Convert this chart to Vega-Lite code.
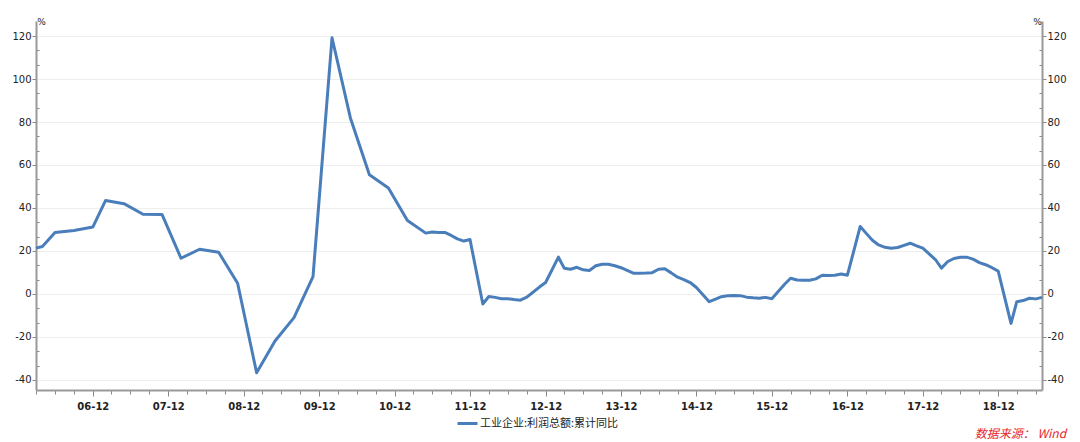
{
  "$schema": "https://vega.github.io/schema/vega-lite/v6.json",
  "width": 1006,
  "height": 369,
  "autosize": {"type": "none"},
  "padding": {"left": 36, "top": 21, "right": 38, "bottom": 52},
  "background": "white",
  "config": {"view": {"stroke": null}, "font": "DejaVu Sans"},
  "title": {
    "text": "数据来源：   Wind",
    "orient": "bottom",
    "anchor": "end",
    "color": "#e8262b",
    "fontSize": 12,
    "fontStyle": "italic",
    "fontWeight": "normal",
    "font": "Noto Sans CJK SC",
    "offset": 0,
    "dy": -1,
    "dx": 0
  },
  "data": {
    "values": [
      {"date": "2006-03", "value": 21.3},
      {"date": "2006-04", "value": 22.1},
      {"date": "2006-06", "value": 28.6},
      {"date": "2006-09", "value": 29.5},
      {"date": "2006-12", "value": 31.1},
      {"date": "2007-02", "value": 43.5},
      {"date": "2007-05", "value": 42.0},
      {"date": "2007-08", "value": 37.1},
      {"date": "2007-11", "value": 37.0},
      {"date": "2008-02", "value": 16.6},
      {"date": "2008-05", "value": 20.8},
      {"date": "2008-08", "value": 19.4},
      {"date": "2008-11", "value": 5.0},
      {"date": "2009-02", "value": -36.7},
      {"date": "2009-05", "value": -21.9},
      {"date": "2009-08", "value": -11.0},
      {"date": "2009-11", "value": 8.1},
      {"date": "2010-02", "value": 119.2},
      {"date": "2010-05", "value": 81.9},
      {"date": "2010-08", "value": 55.5},
      {"date": "2010-11", "value": 49.3},
      {"date": "2011-02", "value": 34.2},
      {"date": "2011-05", "value": 28.3},
      {"date": "2011-06", "value": 28.8},
      {"date": "2011-07", "value": 28.6},
      {"date": "2011-08", "value": 28.6},
      {"date": "2011-09", "value": 27.2},
      {"date": "2011-10", "value": 25.6},
      {"date": "2011-11", "value": 24.6},
      {"date": "2011-12", "value": 25.3},
      {"date": "2012-02", "value": -4.7},
      {"date": "2012-03", "value": -1.2},
      {"date": "2012-04", "value": -1.6},
      {"date": "2012-05", "value": -2.2},
      {"date": "2012-06", "value": -2.2},
      {"date": "2012-07", "value": -2.6},
      {"date": "2012-08", "value": -2.9},
      {"date": "2012-09", "value": -1.5},
      {"date": "2012-10", "value": 0.8},
      {"date": "2012-11", "value": 3.2},
      {"date": "2012-12", "value": 5.3},
      {"date": "2013-02", "value": 17.1},
      {"date": "2013-03", "value": 12.0},
      {"date": "2013-04", "value": 11.5},
      {"date": "2013-05", "value": 12.4},
      {"date": "2013-06", "value": 11.2},
      {"date": "2013-07", "value": 10.9},
      {"date": "2013-08", "value": 13.1},
      {"date": "2013-09", "value": 13.8},
      {"date": "2013-10", "value": 13.8},
      {"date": "2013-11", "value": 13.1},
      {"date": "2013-12", "value": 12.2},
      {"date": "2014-02", "value": 9.6},
      {"date": "2014-03", "value": 9.6},
      {"date": "2014-04", "value": 9.7},
      {"date": "2014-05", "value": 9.9},
      {"date": "2014-06", "value": 11.5},
      {"date": "2014-07", "value": 11.7},
      {"date": "2014-08", "value": 9.8},
      {"date": "2014-09", "value": 7.8},
      {"date": "2014-10", "value": 6.7},
      {"date": "2014-11", "value": 5.3},
      {"date": "2014-12", "value": 3.0},
      {"date": "2015-02", "value": -3.6},
      {"date": "2015-03", "value": -2.5},
      {"date": "2015-04", "value": -1.3},
      {"date": "2015-05", "value": -0.8},
      {"date": "2015-06", "value": -0.7},
      {"date": "2015-07", "value": -0.8},
      {"date": "2015-08", "value": -1.5},
      {"date": "2015-09", "value": -1.8},
      {"date": "2015-10", "value": -2.0},
      {"date": "2015-11", "value": -1.6},
      {"date": "2015-12", "value": -2.2},
      {"date": "2016-02", "value": 4.5},
      {"date": "2016-03", "value": 7.3},
      {"date": "2016-04", "value": 6.5},
      {"date": "2016-05", "value": 6.4},
      {"date": "2016-06", "value": 6.4},
      {"date": "2016-07", "value": 7.0},
      {"date": "2016-08", "value": 8.7},
      {"date": "2016-09", "value": 8.6},
      {"date": "2016-10", "value": 8.7},
      {"date": "2016-11", "value": 9.3},
      {"date": "2016-12", "value": 8.7},
      {"date": "2017-02", "value": 31.4},
      {"date": "2017-03", "value": 28.3},
      {"date": "2017-04", "value": 25.0},
      {"date": "2017-05", "value": 22.8},
      {"date": "2017-06", "value": 21.7},
      {"date": "2017-07", "value": 21.3},
      {"date": "2017-08", "value": 21.6},
      {"date": "2017-09", "value": 22.6},
      {"date": "2017-10", "value": 23.6},
      {"date": "2017-11", "value": 22.4},
      {"date": "2017-12", "value": 21.3},
      {"date": "2018-02", "value": 15.9},
      {"date": "2018-03", "value": 12.0},
      {"date": "2018-04", "value": 15.1},
      {"date": "2018-05", "value": 16.5},
      {"date": "2018-06", "value": 17.1},
      {"date": "2018-07", "value": 17.1},
      {"date": "2018-08", "value": 16.2},
      {"date": "2018-09", "value": 14.6},
      {"date": "2018-10", "value": 13.6},
      {"date": "2018-11", "value": 12.2},
      {"date": "2018-12", "value": 10.6},
      {"date": "2019-02", "value": -13.7},
      {"date": "2019-03", "value": -3.6},
      {"date": "2019-04", "value": -3.1},
      {"date": "2019-05", "value": -2.0},
      {"date": "2019-06", "value": -2.3},
      {"date": "2019-07", "value": -1.6}
    ]
  },
  "encoding": {
    "x": {
      "field": "date",
      "type": "temporal",
      "title": null,
      "scale": {
        "domain": [
          {"year": 2006, "month": 3, "date": 1, "utc": true},
          {"year": 2019, "month": 7, "date": 1, "utc": true}
        ]
      },
      "axis": {
        "orient": "bottom",
        "grid": false,
        "values": [
          {"year": 2006, "month": 3, "date": 1, "utc": true},
          {"year": 2006, "month": 6, "date": 1, "utc": true},
          {"year": 2006, "month": 9, "date": 1, "utc": true},
          {"year": 2006, "month": 12, "date": 1, "utc": true},
          {"year": 2007, "month": 3, "date": 1, "utc": true},
          {"year": 2007, "month": 6, "date": 1, "utc": true},
          {"year": 2007, "month": 9, "date": 1, "utc": true},
          {"year": 2007, "month": 12, "date": 1, "utc": true},
          {"year": 2008, "month": 3, "date": 1, "utc": true},
          {"year": 2008, "month": 6, "date": 1, "utc": true},
          {"year": 2008, "month": 9, "date": 1, "utc": true},
          {"year": 2008, "month": 12, "date": 1, "utc": true},
          {"year": 2009, "month": 3, "date": 1, "utc": true},
          {"year": 2009, "month": 6, "date": 1, "utc": true},
          {"year": 2009, "month": 9, "date": 1, "utc": true},
          {"year": 2009, "month": 12, "date": 1, "utc": true},
          {"year": 2010, "month": 3, "date": 1, "utc": true},
          {"year": 2010, "month": 6, "date": 1, "utc": true},
          {"year": 2010, "month": 9, "date": 1, "utc": true},
          {"year": 2010, "month": 12, "date": 1, "utc": true},
          {"year": 2011, "month": 3, "date": 1, "utc": true},
          {"year": 2011, "month": 6, "date": 1, "utc": true},
          {"year": 2011, "month": 9, "date": 1, "utc": true},
          {"year": 2011, "month": 12, "date": 1, "utc": true},
          {"year": 2012, "month": 3, "date": 1, "utc": true},
          {"year": 2012, "month": 6, "date": 1, "utc": true},
          {"year": 2012, "month": 9, "date": 1, "utc": true},
          {"year": 2012, "month": 12, "date": 1, "utc": true},
          {"year": 2013, "month": 3, "date": 1, "utc": true},
          {"year": 2013, "month": 6, "date": 1, "utc": true},
          {"year": 2013, "month": 9, "date": 1, "utc": true},
          {"year": 2013, "month": 12, "date": 1, "utc": true},
          {"year": 2014, "month": 3, "date": 1, "utc": true},
          {"year": 2014, "month": 6, "date": 1, "utc": true},
          {"year": 2014, "month": 9, "date": 1, "utc": true},
          {"year": 2014, "month": 12, "date": 1, "utc": true},
          {"year": 2015, "month": 3, "date": 1, "utc": true},
          {"year": 2015, "month": 6, "date": 1, "utc": true},
          {"year": 2015, "month": 9, "date": 1, "utc": true},
          {"year": 2015, "month": 12, "date": 1, "utc": true},
          {"year": 2016, "month": 3, "date": 1, "utc": true},
          {"year": 2016, "month": 6, "date": 1, "utc": true},
          {"year": 2016, "month": 9, "date": 1, "utc": true},
          {"year": 2016, "month": 12, "date": 1, "utc": true},
          {"year": 2017, "month": 3, "date": 1, "utc": true},
          {"year": 2017, "month": 6, "date": 1, "utc": true},
          {"year": 2017, "month": 9, "date": 1, "utc": true},
          {"year": 2017, "month": 12, "date": 1, "utc": true},
          {"year": 2018, "month": 3, "date": 1, "utc": true},
          {"year": 2018, "month": 6, "date": 1, "utc": true},
          {"year": 2018, "month": 9, "date": 1, "utc": true},
          {"year": 2018, "month": 12, "date": 1, "utc": true},
          {"year": 2019, "month": 3, "date": 1, "utc": true},
          {"year": 2019, "month": 6, "date": 1, "utc": true}
        ],
        "labelExpr": "utcmonth(datum.value) === 11 ? utcFormat(datum.value, '%y-%m') : ''",
        "labelFont": "DejaVu Sans",
        "labelFontWeight": "bold",
        "labelFontSize": 10,
        "labelColor": "#222222",
        "labelPadding": 5,
        "labelFlush": false,
        "labelOverlap": false,
        "domainColor": "#999999",
        "domainWidth": 2,
        "tickColor": "#888888",
        "tickWidth": 1,
        "tickSize": {"condition": {"test": "utcmonth(datum.value) === 11", "value": 6}, "value": 4}
      }
    }
  },
  "layer": [
    {
      "mark": {"type": "line", "strokeWidth": 3, "strokeJoin": "round"},
      "encoding": {
        "y": {
          "field": "value",
          "type": "quantitative",
          "title": "%",
          "scale": {"domain": [-44.7, 127], "nice": false, "zero": false},
          "axis": {
            "orient": "left",
            "values": [-40, -33.3333, -26.6667, -20, -13.3333, -6.6667, 0, 6.6667, 13.3333, 20, 26.6667, 33.3333, 40, 46.6667, 53.3333, 60, 66.6667, 73.3333, 80, 86.6667, 93.3333, 100, 106.6667, 113.3333, 120],
            "labelExpr": "datum.value % 20 === 0 ? '' + datum.value : ''",
            "labelFont": "DejaVu Sans",
            "labelFontSize": 10,
            "labelColor": "#222222",
            "labelPadding": 1,
            "grid": true,
            "gridColor": "#eeeeee",
            "gridWidth": 1,
            "gridOpacity": {"condition": {"test": "datum.value % 20 === 0", "value": 1}, "value": 0},
            "domainColor": "#999999",
            "domainWidth": 2,
            "tickColor": "#888888",
            "tickWidth": 1,
            "tickSize": {"condition": {"test": "datum.value % 20 === 0", "value": 4}, "value": -3},
            "titleAngle": 0,
            "titleX": 5,
            "titleY": 3,
            "titleAlign": "center",
            "titleBaseline": "alphabetic",
            "titleFont": "DejaVu Sans",
            "titleFontSize": 9,
            "titleFontWeight": "normal",
            "titleColor": "#222222"
          }
        },
        "color": {
          "datum": "工业企业:利润总额:累计同比",
          "type": "nominal",
          "scale": {"range": ["#4a7ebb"]},
          "legend": {
            "title": null,
            "orient": "none",
            "legendX": 420,
            "legendY": 391,
            "symbolType": "stroke",
            "symbolSize": 400,
            "symbolStrokeWidth": 3,
            "labelFont": "Noto Sans CJK SC",
            "labelFontSize": 11,
            "labelColor": "#222222",
            "labelOffset": 1,
            "labelLimit": 300
          }
        }
      }
    },
    {
      "mark": {"type": "line", "strokeOpacity": 0},
      "encoding": {
        "y": {
          "field": "value",
          "type": "quantitative",
          "title": "%",
          "scale": {"domain": [-44.7, 127], "nice": false, "zero": false},
          "axis": {
            "orient": "right",
            "values": [-40, -33.3333, -26.6667, -20, -13.3333, -6.6667, 0, 6.6667, 13.3333, 20, 26.6667, 33.3333, 40, 46.6667, 53.3333, 60, 66.6667, 73.3333, 80, 86.6667, 93.3333, 100, 106.6667, 113.3333, 120],
            "labelExpr": "datum.value % 20 === 0 ? '' + datum.value : ''",
            "labelFont": "DejaVu Sans",
            "labelFontSize": 10,
            "labelColor": "#222222",
            "labelPadding": 1,
            "grid": false,
            "domainColor": "#999999",
            "domainWidth": 2,
            "tickColor": "#888888",
            "tickWidth": 1,
            "tickSize": {"condition": {"test": "datum.value % 20 === 0", "value": 4}, "value": -3},
            "titleAngle": 0,
            "titleX": -5,
            "titleY": 3,
            "titleAlign": "center",
            "titleBaseline": "alphabetic",
            "titleFont": "DejaVu Sans",
            "titleFontSize": 9,
            "titleFontWeight": "normal",
            "titleColor": "#222222"
          }
        }
      }
    }
  ],
  "resolve": {"axis": {"y": "independent"}}
}
